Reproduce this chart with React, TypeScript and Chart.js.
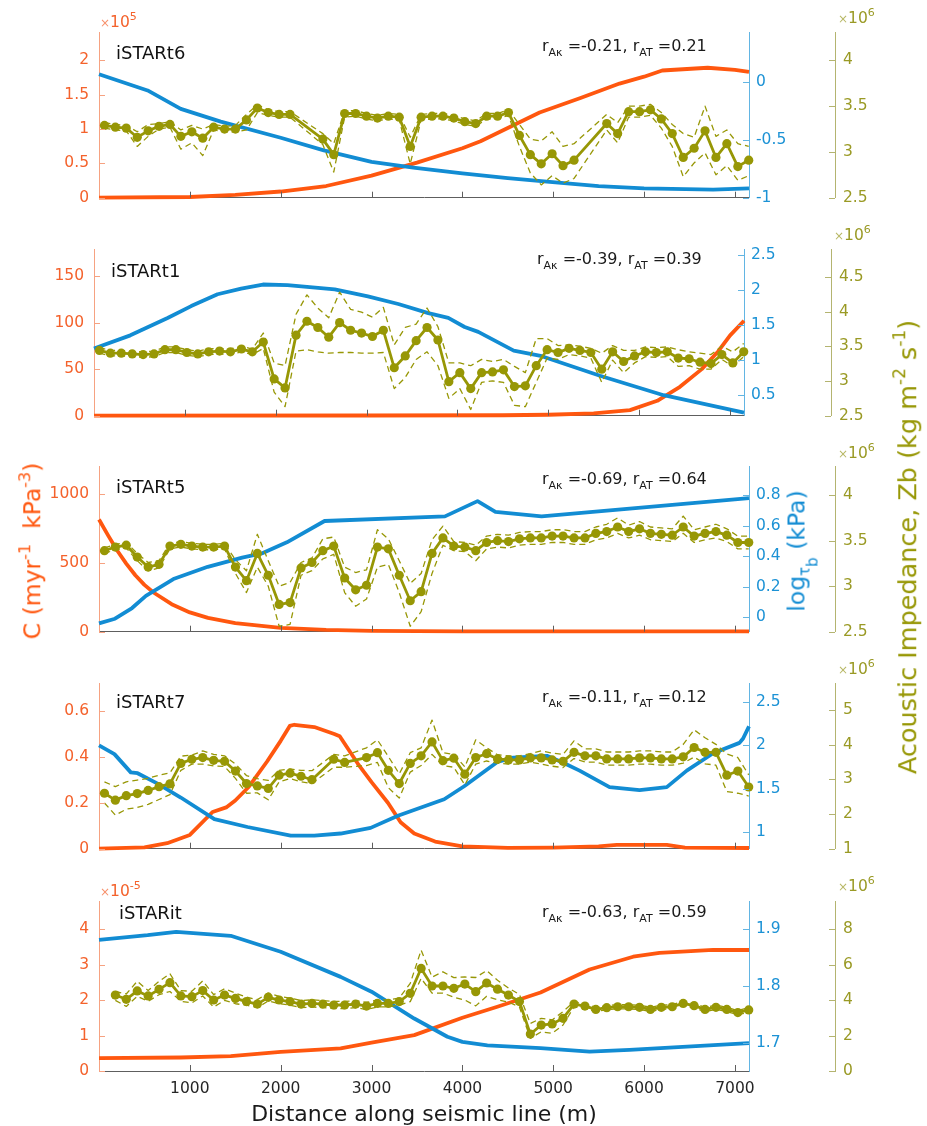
import React, { useEffect, useRef } from 'react';
import { Chart, registerables } from 'chart.js';

Chart.register(...registerables);

const FONT = '"DejaVu Sans", "Noto Sans", Arial, sans-serif';
Chart.defaults.font.family = FONT;

// ---------------- data ----------------
const X_MAX = 7155;
const X_TICKS = [1000, 2000, 3000, 4000, 5000, 6000, 7000];
const DIST = [
  60, 180, 300, 421, 541, 661, 781, 901, 1022, 1142,
  1262, 1382, 1502, 1623, 1743, 1863, 1983, 2103, 2224, 2344,
  2464, 2584, 2704, 2825, 2945, 3065, 3185, 3305, 3426, 3546,
  3666, 3786, 3906, 4027, 4147, 4267, 4387, 4507, 4628, 4748,
  4868, 4988, 5108, 5229, 5349, 5469, 5589, 5709, 5830, 5950,
  6070, 6190, 6310, 6431, 6551, 6671, 6791, 6911, 7032, 7152,
];

// Panel 1 — iSTARt6
const P1_C_X = [0, 1000, 1500, 2000, 2500, 3000, 3500, 4000, 4200, 4850, 5300, 5730, 6000, 6200, 6700, 7000, 7155];
const P1_C_Y = [0, 0.01, 0.04, 0.09, 0.17, 0.32, 0.51, 0.72, 0.82, 1.24, 1.45, 1.66, 1.76, 1.85, 1.89, 1.86, 1.83];
const P1_T_X = [0, 535, 900, 1340, 2000, 2475, 3000, 3460, 4000, 4500, 4930, 5500, 6000, 6760, 7155];
const P1_T_Y = [0.07, -0.07, -0.23, -0.34, -0.48, -0.59, -0.69, -0.74, -0.79, -0.83, -0.86, -0.9, -0.92, -0.93, -0.92];
const P1_Z = [
  3.29, 3.27, 3.26, 3.16, 3.23, 3.28, 3.3, 3.17, 3.22, 3.15,
  3.27, 3.25, 3.25, 3.35, 3.48, 3.43, 3.41, 3.41, null, null,
  3.14, 2.97, 3.42, 3.42, 3.39, 3.37, 3.39, 3.38, 3.06, 3.38,
  3.39, 3.39, 3.37, 3.33, 3.31, 3.39, 3.39, 3.43, 3.18, 2.97,
  2.87, 2.98, 2.85, 2.91, null, null, 3.31, 3.2, 3.44, 3.44,
  3.46, 3.36, 3.2, 2.94, 3.04, 3.23, 2.94, 3.09, 2.84, 2.91,
];
const P1_Z_UP = [
  0.03, 0.03, 0.03, 0.06, 0.07, 0.03, 0.03, 0.07, 0.07, 0.1,
  0.03, 0.03, 0.04, 0.06, 0.035, 0.03, 0.03, 0.03, 0, 0,
  0.06, 0.12, 0.03, 0.03, 0.03, 0.03, 0.03, 0.03, 0.1, 0.03,
  0.03, 0.03, 0.03, 0.03, 0.03, 0.03, 0.03, 0.03, 0.12, 0.17,
  0.25, 0.24, 0.21, 0.18, 0, 0, 0.1, 0.12, 0.06, 0.06,
  0.06, 0.07, 0.1, 0.26, 0.12, 0.27, 0.23, 0.15, 0.25, 0.15,
];
const P1_Z_LO = [
  0.03, 0.03, 0.03, 0.1, 0.06, 0.03, 0.03, 0.14, 0.12, 0.19,
  0.03, 0.03, 0.03, 0.11, 0.05, 0.03, 0.03, 0.03, 0, 0,
  0.06, 0.19, 0.04, 0.03, 0.03, 0.03, 0.03, 0.03, 0.19, 0.03,
  0.03, 0.03, 0.03, 0.03, 0.03, 0.03, 0.03, 0.03, 0.12, 0.2,
  0.23, 0.24, 0.19, 0.2, 0, 0, 0.07, 0.1, 0.06, 0.06,
  0.06, 0.1, 0.14, 0.21, 0.16, 0.24, 0.19, 0.24, 0.15, 0.17,
];
const P1_C_TICKS = [0, 0.5, 1, 1.5, 2];
const P1_T_TICKS = [-1, -0.5, 0];
const P1_Z_TICKS = [2.5, 3, 3.5, 4];

// Panel 2 — iSTARt1
const P2_C_X = [0, 3000, 4500, 5000, 5500, 5900, 6200, 6450, 6690, 6870, 7000, 7155];
const P2_C_Y = [0, 0.2, 0.5, 1, 2.5, 6, 16, 31, 50, 69, 86, 102];
const P2_T_X = [0, 400, 810, 1070, 1360, 1620, 1860, 2130, 2650, 3015, 3350, 3680, 3900, 4080, 4230, 4620, 4930, 5570, 6270, 7155];
const P2_T_Y = [1.16, 1.35, 1.6, 1.77, 1.94, 2.02, 2.08, 2.07, 2.01, 1.91, 1.8, 1.67, 1.6, 1.47, 1.4, 1.13, 1.05, 0.77, 0.49, 0.24];
const P2_Z = [
  3.44, 3.4, 3.4, 3.39, 3.38, 3.39, 3.45, 3.45, 3.41, 3.39,
  3.42, 3.43, 3.42, 3.46, 3.42, 3.56, 3.03, 2.9, 3.66, 3.86,
  3.77, 3.63, 3.84, 3.73, 3.69, 3.64, 3.73, 3.19, 3.36, 3.58,
  3.77, 3.59, 2.99, 3.12, 2.89, 3.12, 3.13, 3.16, 2.92, 2.93,
  3.22, 3.45, 3.41, 3.47, 3.44, 3.41, 3.17, 3.42, 3.28, 3.36,
  3.42, 3.41, 3.42, 3.33, 3.32, 3.27, 3.25, 3.38, 3.26, 3.42,
];
const P2_Z_UP = [
  0.04, 0.04, 0.04, 0.04, 0.04, 0.04, 0.04, 0.04, 0.04, 0.04,
  0.04, 0.04, 0.04, 0.04, 0.04, 0.13, 0.23, 0.32, 0.3, 0.38,
  0.28, 0.28, 0.44, 0.3, 0.3, 0.28, 0.33, 0.33, 0.41, 0.24,
  0.28, 0.19, 0.27, 0.14, 0.33, 0.19, 0.15, 0.15, 0.29, 0.19,
  0.39, 0.16, 0.1, 0.05, 0.06, 0.06, 0.23, 0.09, 0.16, 0.08,
  0.07, 0.07, 0.07, 0.12, 0.1, 0.13, 0.13, 0.12, 0.16, 0.12,
];
const P2_Z_LO = [
  0.04, 0.04, 0.04, 0.04, 0.04, 0.04, 0.04, 0.04, 0.04, 0.04,
  0.04, 0.04, 0.04, 0.04, 0.04, 0.09, 0.19, 0.27, 0.23, 0.41,
  0.35, 0.23, 0.43, 0.32, 0.29, 0.24, 0.32, 0.3, 0.31, 0.27,
  0.35, 0.37, 0.24, 0.23, 0.3, 0.14, 0.13, 0.18, 0.27, 0.3,
  0.24, 0.12, 0.1, 0.09, 0.08, 0.08, 0.19, 0.12, 0.16, 0.1,
  0.07, 0.07, 0.07, 0.12, 0.1, 0.1, 0.08, 0.07, 0.05, 0.07,
];
const P2_C_TICKS = [0, 50, 100, 150];
const P2_T_TICKS = [0.5, 1, 1.5, 2, 2.5];
const P2_Z_TICKS = [2.5, 3, 3.5, 4, 4.5];

// Panel 3 — iSTARt5
const P3_C_X = [0, 100, 200, 300, 400, 500, 600, 800, 1000, 1200, 1500, 2000, 2500, 3000, 4000, 7155];
const P3_C_Y = [815, 700, 590, 495, 410, 340, 285, 200, 140, 100, 62, 28, 13, 6, 3, 2];
const P3_T_X = [0, 176, 364, 516, 819, 1197, 1576, 1803, 2068, 2483, 3808, 4167, 4364, 4872, 7155];
const P3_T_Y = [-0.04, -0.01, 0.06, 0.14, 0.25, 0.33, 0.39, 0.42, 0.49, 0.63, 0.66, 0.76, 0.69, 0.66, 0.78];
const P3_Z = [
  3.39, 3.43, 3.45, 3.32, 3.21, 3.24, 3.44, 3.46, 3.44, 3.43,
  3.43, 3.44, 3.21, 3.06, 3.36, 3.12, 2.8, 2.82, 3.2, 3.26,
  3.39, 3.44, 3.09, 2.96, 3.01, 3.43, 3.41, 3.12, 2.84, 2.94,
  3.36, 3.53, 3.44, 3.43, 3.39, 3.48, 3.5, 3.49, 3.52, 3.53,
  3.53, 3.55, 3.55, 3.53, 3.53, 3.58, 3.6, 3.65, 3.6, 3.63,
  3.58, 3.57, 3.56, 3.65, 3.55, 3.58, 3.6, 3.56, 3.48, 3.48,
];
const P3_Z_UP = [
  0.03, 0.03, 0.03, 0.04, 0.05, 0.04, 0.03, 0.03, 0.03, 0.03,
  0.03, 0.03, 0.08, 0.11, 0.21, 0.16, 0.2, 0.22, 0.06, 0.05,
  0.13, 0.1, 0.12, 0.19, 0.17, 0.19, 0.11, 0.16, 0.19, 0.2,
  0.15, 0.13, 0.05, 0.05, 0.06, 0.07, 0.07, 0.07, 0.07, 0.07,
  0.07, 0.07, 0.07, 0.07, 0.07, 0.07, 0.08, 0.1, 0.07, 0.08,
  0.07, 0.07, 0.07, 0.12, 0.07, 0.07, 0.08, 0.07, 0.07, 0.07,
];
const P3_Z_LO = [
  0.03, 0.03, 0.03, 0.04, 0.04, 0.04, 0.03, 0.03, 0.03, 0.03,
  0.03, 0.03, 0.07, 0.13, 0.15, 0.12, 0.24, 0.24, 0.08, 0.09,
  0.09, 0.09, 0.16, 0.18, 0.15, 0.22, 0.17, 0.19, 0.28, 0.22,
  0.22, 0.08, 0.05, 0.05, 0.11, 0.07, 0.07, 0.07, 0.07, 0.07,
  0.07, 0.07, 0.07, 0.07, 0.07, 0.07, 0.07, 0.07, 0.07, 0.07,
  0.07, 0.07, 0.07, 0.07, 0.07, 0.07, 0.07, 0.07, 0.07, 0.07,
];
const P3_C_TICKS = [0, 500, 1000];
const P3_T_TICKS = [0, 0.2, 0.4, 0.6, 0.8];
const P3_Z_TICKS = [2.5, 3, 3.5, 4];

// Panel 4 — iSTARt7
const P4_C_X = [0, 500, 750, 1000, 1250, 1400, 1500, 1650, 1850, 2000, 2100, 2150, 2370, 2590, 2650, 2850, 3000, 3180, 3320, 3470, 3700, 4000, 4500, 5000, 5500, 5700, 6250, 6450, 7155];
const P4_C_Y = [0, 0.006, 0.024, 0.06, 0.16, 0.18, 0.21, 0.27, 0.38, 0.47, 0.535, 0.54, 0.53, 0.5, 0.49, 0.37, 0.29, 0.2, 0.115, 0.066, 0.031, 0.01, 0.004, 0.005, 0.01, 0.017, 0.017, 0.005, 0.003];
const P4_T_X = [0, 170, 350, 425, 645, 900, 1270, 1635, 2110, 2370, 2660, 2990, 3290, 3800, 4020, 4385, 4560, 4930, 5110, 5290, 5620, 5950, 6250, 6470, 6760, 7050, 7090, 7155];
const P4_T_Y = [2.0, 1.9, 1.69, 1.68, 1.56, 1.4, 1.15, 1.06, 0.96, 0.96, 0.985, 1.05, 1.19, 1.38, 1.53, 1.81, 1.86, 1.88, 1.8, 1.71, 1.52, 1.485, 1.52, 1.71, 1.91, 2.03, 2.08, 2.22];
const P4_Z = [
  2.6, 2.4, 2.53, 2.59, 2.68, 2.79, 2.87, 3.46, 3.58, 3.63,
  3.55, 3.52, 3.24, 2.88, 2.81, 2.74, 3.12, 3.18, 3.09, 2.99,
  null, 3.58, 3.49, null, 3.63, 3.77, 3.26, 2.88, 3.46, 3.68,
  4.08, 3.54, 3.61, 3.15, 3.63, 3.74, 3.59, 3.56, 3.56, 3.62,
  3.62, 3.56, 3.52, 3.78, 3.68, 3.68, 3.59, 3.59, 3.59, 3.62,
  3.62, 3.59, 3.59, 3.65, 3.92, 3.78, 3.78, 3.12, 3.24, 2.78,
];
const P4_Z_UP = [
  0.33, 0.39, 0.4, 0.39, 0.35, 0.33, 0.32, 0.21, 0.12, 0.19,
  0.17, 0.16, 0.2, 0.23, 0.21, 0.23, 0.14, 0.12, 0.17, 0.26,
  0, 0.14, 0.19, 0, 0.28, 0.37, 0.4, 0.28, 0.31, 0.23,
  0.63, 0.23, 0.11, 0.21, 0.51, 0.17, 0.12, 0.12, 0.12, 0.12,
  0.2, 0.2, 0.2, 0.33, 0.2, 0.2, 0.2, 0.2, 0.2, 0.2,
  0.2, 0.2, 0.2, 0.36, 0.51, 0.42, 0.23, 0.61, 0.39, 0.35,
];
const P4_Z_LO = [
  0.28, 0.43, 0.39, 0.4, 0.4, 0.37, 0.31, 0.2, 0.14, 0.19,
  0.16, 0.15, 0.21, 0.28, 0.2, 0.33, 0.19, 0.16, 0.16, 0.11,
  0, 0.23, 0.14, 0, 0.23, 0.28, 0.5, 0.42, 0.25, 0.28,
  0.36, 0.14, 0.26, 0.31, 0.19, 0.21, 0.12, 0.12, 0.12, 0.12,
  0.18, 0.18, 0.18, 0.18, 0.18, 0.18, 0.18, 0.18, 0.18, 0.18,
  0.18, 0.18, 0.18, 0.18, 0.28, 0.33, 0.37, 0.47, 0.64, 0.26,
];
const P4_C_TICKS = [0, 0.2, 0.4, 0.6];
const P4_T_TICKS = [1, 1.5, 2, 2.5];
const P4_Z_TICKS = [1, 2, 3, 4, 5];

// Panel 5 — iSTARit
const P5_C_X = [0, 900, 1450, 2000, 2660, 3000, 3470, 4000, 4385, 4860, 5400, 5880, 6170, 6760, 7155];
const P5_C_Y = [0.36, 0.38, 0.42, 0.54, 0.64, 0.8, 1.01, 1.5, 1.81, 2.21, 2.86, 3.22, 3.33, 3.41, 3.41];
const P5_T_X = [0, 535, 850, 1450, 2000, 2660, 3000, 3470, 3835, 4000, 4275, 4860, 5400, 5840, 7155];
const P5_T_Y = [1.881, 1.889, 1.895, 1.888, 1.86, 1.816, 1.79, 1.743, 1.711, 1.702, 1.696, 1.691, 1.685, 1.688, 1.7];
const P5_Z = [
  null, 4.28, 4.04, 4.51, 4.23, 4.6, 4.98, 4.23, 4.19, 4.53,
  4.0, 4.28, 4.09, 3.91, 3.77, 4.15, 4.0, 3.91, 3.77, 3.81,
  3.77, 3.72, 3.72, 3.77, 3.66, 3.81, 3.81, 3.91, 4.38, 5.78,
  4.79, 4.79, 4.66, 4.9, 4.47, 4.96, 4.61, 4.28, 3.91, 2.08,
  2.59, 2.65, 2.97, 3.77, 3.66, 3.47, 3.57, 3.62, 3.62, 3.59,
  3.47, 3.59, 3.62, 3.81, 3.68, 3.47, 3.59, 3.47, 3.29, 3.44,
];
const P5_Z_UP = [
  0, 0.2, 0.3, 0.55, 0.3, 0.45, 0.5, 0.3, 0.3, 0.55,
  0.3, 0.35, 0.3, 0.25, 0.25, 0.25, 0.2, 0.2, 0.2, 0.2,
  0.2, 0.2, 0.2, 0.2, 0.2, 0.2, 0.2, 0.2, 0.56, 1.03,
  0.5, 0.8, 0.6, 0.4, 0.8, 0.7, 0.5, 0.4, 0.4, 0.6,
  0.38, 0.23, 0.38, 0.13, 0.12, 0.12, 0.12, 0.12, 0.12, 0.12,
  0.12, 0.12, 0.12, 0.12, 0.12, 0.12, 0.12, 0.12, 0.12, 0.12,
];
const P5_Z_LO = [
  0, 0.3, 0.4, 0.3, 0.3, 0.3, 0.5, 0.3, 0.35, 0.3,
  0.4, 0.3, 0.3, 0.2, 0.2, 0.2, 0.2, 0.2, 0.2, 0.2,
  0.2, 0.2, 0.2, 0.2, 0.2, 0.2, 0.2, 0.2, 0.47, 0.56,
  0.4, 0.4, 0.5, 0.9, 0.8, 0.75, 0.6, 0.4, 0.3, 0.24,
  0.38, 0.53, 0.38, 0.15, 0.12, 0.12, 0.12, 0.12, 0.12, 0.12,
  0.12, 0.12, 0.12, 0.12, 0.12, 0.12, 0.12, 0.12, 0.12, 0.12,
];
const P5_C_TICKS = [0, 1, 2, 3, 4];
const P5_T_TICKS = [1.7, 1.8, 1.9];
const P5_Z_TICKS = [0, 2, 4, 6, 8];

// ---------------- panel definitions (data refs) ----------------
const PANEL_DATA = [
  { title: 'iSTARt6', rAk: '-0.21', rAT: '0.21', cExp: '5', cX: P1_C_X, cY: P1_C_Y, tX: P1_T_X, tY: P1_T_Y, z: P1_Z, zUp: P1_Z_UP, zLo: P1_Z_LO, cTicks: P1_C_TICKS, tTicks: P1_T_TICKS, zTicks: P1_Z_TICKS, cRange: [0, 2.41], tRange: [-1, 0.437], zRange: [2.5, 4.31] },
  { title: 'iSTARt1', rAk: '-0.39', rAT: '0.39', cExp: null, cX: P2_C_X, cY: P2_C_Y, tX: P2_T_X, tY: P2_T_Y, z: P2_Z, zUp: P2_Z_UP, zLo: P2_Z_LO, cTicks: P2_C_TICKS, tTicks: P2_T_TICKS, zTicks: P2_Z_TICKS, cRange: [0, 179], tRange: [0.196, 2.59], zRange: [2.5, 4.9] },
  { title: 'iSTARt5', rAk: '-0.69', rAT: '0.64', cExp: null, cX: P3_C_X, cY: P3_C_Y, tX: P3_T_X, tY: P3_T_Y, z: P3_Z, zUp: P3_Z_UP, zLo: P3_Z_LO, cTicks: P3_C_TICKS, tTicks: P3_T_TICKS, zTicks: P3_Z_TICKS, cRange: [0, 1204], tRange: [-0.095, 0.99], zRange: [2.5, 4.32] },
  { title: 'iSTARt7', rAk: '-0.11', rAT: '0.12', cExp: null, cX: P4_C_X, cY: P4_C_Y, tX: P4_T_X, tY: P4_T_Y, z: P4_Z, zUp: P4_Z_UP, zLo: P4_Z_LO, cTicks: P4_C_TICKS, tTicks: P4_T_TICKS, zTicks: P4_Z_TICKS, cRange: [0, 0.722], tRange: [0.81, 2.72], zRange: [1, 5.78] },
  { title: 'iSTARit', rAk: '-0.63', rAT: '0.59', cExp: '-5', cX: P5_C_X, cY: P5_C_Y, tX: P5_T_X, tY: P5_T_Y, z: P5_Z, zUp: P5_Z_UP, zLo: P5_Z_LO, cTicks: P5_C_TICKS, tTicks: P5_T_TICKS, zTicks: P5_Z_TICKS, cRange: [0, 4.79], tRange: [1.651, 1.949], zRange: [0, 9.58] },
];

// ---------------- layout / style ----------------
const W = 927;
const H = 1126;
const PAD_TOP = 30;
const LAYOUT = [
  { top: 32, bottom: 203, left: 99, right: 749, zx: 835, titleX: 116, titleB: 59, rB: 52, zExpB: 24, cExpB: 28 },
  { top: 249, bottom: 421, left: 94, right: 744, zx: 831, titleX: 111, titleB: 277, rB: 265, zExpB: 241, cExpB: 0 },
  { top: 466, bottom: 637, left: 99, right: 749, zx: 835, titleX: 116, titleB: 493, rB: 485, zExpB: 459, cExpB: 0 },
  { top: 683, bottom: 854, left: 99, right: 749, zx: 835, titleX: 116, titleB: 708, rB: 703, zExpB: 675, cExpB: 0 },
  { top: 901, bottom: 1071, left: 99, right: 749, zx: 835, titleX: 119, titleB: 919, rB: 918, zExpB: 892, cExpB: 897 },
];

const C_ORANGE = '#FF570F';
const C_ORANGE_TXT = '#F4622C';
const C_ORANGE_AX = '#F6A281';
const C_BLUE = '#128CD3';
const C_BLUE_TXT = '#1C92D5';
const C_BLUE_AX = '#62B5E3';
const C_OLIVE = '#979705';
const C_OLIVE_TXT = '#9A9A25';
const C_OLIVE_AX = '#B4B470';
const C_X_AX = '#5E5E5E';
const TICK_FONT = { family: FONT, size: 15.5 };

function PanelChart({ d, g, last }: any) {
  const ref = useRef<HTMLCanvasElement>(null);
  const xH = last ? H - g.bottom : 14;
  const cTop = g.top - PAD_TOP;
  const cH = g.bottom - g.top + PAD_TOP + xH;

  useEffect(() => {
    const el = ref.current;
    if (!el) return;
    const pairs = (xs: number[], ys: number[]) => xs.map((x, i) => ({ x, y: ys[i] }));
    const onGrid = (ys: (number | null)[]) => DIST.map((x, i) => ({ x, y: ys[i] }));
    const upper = d.z.map((v: number | null, i: number) => (v == null ? null : v + d.zUp[i]));
    const lower = d.z.map((v: number | null, i: number) => (v == null ? null : v - d.zLo[i]));
    const fixTicks = (vals: number[]) => (s: any) => {
      s.ticks = vals.map((v) => ({ value: v }));
    };

    const inTicks = {
      id: 'inTicks',
      afterDatasetsDraw(chart: any) {
        const { ctx, chartArea: a, scales } = chart;
        const L = 6;
        const line = (x1: number, y1: number, x2: number, y2: number) => {
          ctx.beginPath();
          ctx.moveTo(x1, y1);
          ctx.lineTo(x2, y2);
          ctx.stroke();
        };
        ctx.save();
        ctx.lineWidth = 1;
        ctx.strokeStyle = C_X_AX;
        X_TICKS.forEach((v) => {
          const x = Math.round(scales.x.getPixelForValue(v)) + 0.5;
          line(x, a.bottom, x, a.bottom - L);
        });
        ctx.strokeStyle = C_ORANGE_AX;
        d.cTicks.forEach((v: number) => {
          const y = Math.round(scales.yC.getPixelForValue(v)) + 0.5;
          line(a.left, y, a.left + L, y);
        });
        ctx.strokeStyle = C_BLUE_AX;
        d.tTicks.forEach((v: number) => {
          const y = Math.round(scales.yT.getPixelForValue(v)) + 0.5;
          line(a.right - L, y, a.right, y);
        });
        ctx.strokeStyle = C_OLIVE_AX;
        const zx = scales.yZ.left;
        d.zTicks.forEach((v: number) => {
          const y = Math.round(scales.yZ.getPixelForValue(v)) + 0.5;
          line(zx - L, y, zx, y);
        });
        ctx.restore();
      },
    };

    const chart = new Chart(el, {
      type: 'line',
      data: {
        datasets: [
          {
            label: 'Zb',
            data: onGrid(d.z),
            yAxisID: 'yZ',
            borderColor: C_OLIVE,
            backgroundColor: C_OLIVE,
            borderWidth: 2.8,
            pointRadius: 4.6,
            pointBorderWidth: 0,
            pointBackgroundColor: C_OLIVE,
            spanGaps: true,
            clip: false,
            order: 0,
          },
          {
            label: 'Zb upper',
            data: onGrid(upper),
            yAxisID: 'yZ',
            borderColor: C_OLIVE,
            borderWidth: 1.3,
            borderDash: [6, 4],
            pointRadius: 0,
            spanGaps: true,
            clip: false,
            order: 1,
          },
          {
            label: 'Zb lower',
            data: onGrid(lower),
            yAxisID: 'yZ',
            borderColor: C_OLIVE,
            borderWidth: 1.3,
            borderDash: [6, 4],
            pointRadius: 0,
            spanGaps: true,
            clip: false,
            order: 1,
          },
          {
            label: 'log tau_b',
            data: pairs(d.tX, d.tY),
            yAxisID: 'yT',
            borderColor: C_BLUE,
            borderWidth: 3.8,
            pointRadius: 0,
            clip: false,
            order: 2,
          },
          {
            label: 'C',
            data: pairs(d.cX, d.cY),
            yAxisID: 'yC',
            borderColor: C_ORANGE,
            borderWidth: 3.8,
            pointRadius: 0,
            clip: false,
            order: 3,
          },
        ],
      },
      options: {
        responsive: false,
        animation: false,
        devicePixelRatio: 1,
        layout: { padding: { top: PAD_TOP, bottom: 0, left: 0, right: 0 } },
        elements: { line: { tension: 0, borderCapStyle: 'butt', borderJoinStyle: 'round' } },
        plugins: { legend: { display: false }, tooltip: { enabled: false }, title: { display: false } },
        scales: {
          x: {
            type: 'linear',
            min: 0,
            max: X_MAX,
            afterBuildTicks: fixTicks(X_TICKS),
            afterFit: (s: any) => {
              s.height = xH;
            },
            grid: { display: false, drawTicks: false },
            border: { display: true, color: C_X_AX, width: 1 },
            ticks: {
              display: last,
              color: '#262626',
              font: TICK_FONT,
              padding: 9,
              maxRotation: 0,
              autoSkip: false,
              callback: (v: any) => String(v),
            },
          },
          yC: {
            type: 'linear',
            position: 'left',
            min: d.cRange[0],
            max: d.cRange[1],
            afterBuildTicks: fixTicks(d.cTicks),
            afterFit: (s: any) => {
              s.width = g.left;
            },
            grid: { display: false, drawTicks: false },
            border: { display: true, color: C_ORANGE_AX, width: 1 },
            ticks: { color: C_ORANGE_TXT, font: TICK_FONT, padding: 10, callback: (v: any) => String(v) },
          },
          yT: {
            type: 'linear',
            position: 'right',
            weight: 0,
            min: d.tRange[0],
            max: d.tRange[1],
            afterBuildTicks: fixTicks(d.tTicks),
            afterFit: (s: any) => {
              s.width = g.zx - g.right;
            },
            grid: { display: false, drawTicks: false },
            border: { display: true, color: C_BLUE_AX, width: 1 },
            ticks: { color: C_BLUE_TXT, font: TICK_FONT, padding: 7, callback: (v: any) => String(v) },
          },
          yZ: {
            type: 'linear',
            position: 'right',
            weight: 1,
            min: d.zRange[0],
            max: d.zRange[1],
            afterBuildTicks: fixTicks(d.zTicks),
            afterFit: (s: any) => {
              s.width = W - g.zx;
            },
            grid: { display: false, drawTicks: false },
            border: { display: true, color: C_OLIVE_AX, width: 1 },
            ticks: { color: C_OLIVE_TXT, font: TICK_FONT, padding: 8, callback: (v: any) => String(v) },
          },
        },
      } as any,
      plugins: [inTicks],
    } as any);
    return () => chart.destroy();
  }, []);

  return (
    <canvas
      ref={ref}
      width={W}
      height={cH}
      style={{ position: 'absolute', left: 0, top: cTop, width: W, height: cH }}
    />
  );
}

const BASE_K = 0.846; // baseline offset for DejaVu Sans at line-height 1

function Txt({ x, base, size, color, children, style }: any) {
  return (
    <div
      style={{
        position: 'absolute',
        left: x,
        top: base - BASE_K * size,
        fontFamily: FONT,
        fontSize: size,
        lineHeight: `${size}px`,
        color,
        whiteSpace: 'nowrap',
        ...style,
      }}
    >
      {children}
    </div>
  );
}

function VText({ baseX, cy, size, color, children }: any) {
  return (
    <div
      style={{
        position: 'absolute',
        left: baseX - 0.346 * size,
        top: cy,
        transform: 'translate(-50%, -50%) rotate(-90deg)',
        fontFamily: FONT,
        fontSize: size,
        lineHeight: `${size}px`,
        color,
        whiteSpace: 'nowrap',
      }}
    >
      {children}
    </div>
  );
}

const Sup = ({ children, size, lift }: any) => (
  <span style={{ fontSize: size, verticalAlign: `${lift}px`, lineHeight: 0 }}>{children}</span>
);
const Sub = ({ children, size, drop }: any) => (
  <span style={{ fontSize: size, verticalAlign: `${-drop}px`, lineHeight: 0 }}>{children}</span>
);

function Exp({ x, base, color, exp }: any) {
  return (
    <Txt x={x} base={base} size={15.5} color={color}>
      <span style={{ fontSize: 12, opacity: 0.7 }}>×</span>10
      <Sup size={11} lift={7}>
        {exp}
      </Sup>
    </Txt>
  );
}

export default function App() {
  return (
    <div style={{ position: 'absolute', left: 0, top: 0, width: W, height: H, background: '#fff', overflow: 'hidden' }}>
      {PANEL_DATA.map((d, i) => {
        const g = LAYOUT[i];
        return (
          <React.Fragment key={d.title}>
            <PanelChart d={d} g={g} last={i === PANEL_DATA.length - 1} />
            <Txt x={g.titleX} base={g.titleB} size={18} color="#111">
              {d.title}
            </Txt>
            <Txt x={g.right - 207} base={g.rB} size={16} color="#1a1a1a">
              r
              <Sub size={11} drop={5}>
                Aκ
              </Sub>{' '}
              ={d.rAk}, r
              <Sub size={11} drop={5}>
                AT
              </Sub>{' '}
              ={d.rAT}
            </Txt>
            <Exp x={g.zx + 3} base={g.zExpB} color={C_OLIVE_TXT} exp="6" />
            {d.cExp ? <Exp x={g.left + 1} base={g.cExpB} color={C_ORANGE_TXT} exp={d.cExp} /> : null}
          </React.Fragment>
        );
      })}

      <VText baseX={41} cy={551} size={23.5} color={C_ORANGE}>
        C (myr
        <Sup size={16} lift={10}>
          -1
        </Sup>
        {'\u00a0\u00a0'}kPa
        <Sup size={16} lift={10}>
          -3
        </Sup>
        )
      </VText>

      <VText baseX={807} cy={551} size={23.5} color={C_BLUE}>
        log
        <Sub size={15} drop={5}>
          τ
          <span style={{ verticalAlign: '-8px', lineHeight: 0 }}>b</span>
        </Sub>{' '}
        (kPa)
      </VText>

      <VText baseX={917} cy={547} size={25.5} color={C_OLIVE}>
        Acoustic Impedance, Zb (kg m
        <Sup size={17} lift={11}>
          -2
        </Sup>{' '}
        s
        <Sup size={17} lift={11}>
          -1
        </Sup>
        )
      </VText>

      <Txt x={0} base={1121.5} size={22} color="#1a1a1a" style={{ width: 848, textAlign: 'center' }}>
        Distance along seismic line (m)
      </Txt>
    </div>
  );
}
